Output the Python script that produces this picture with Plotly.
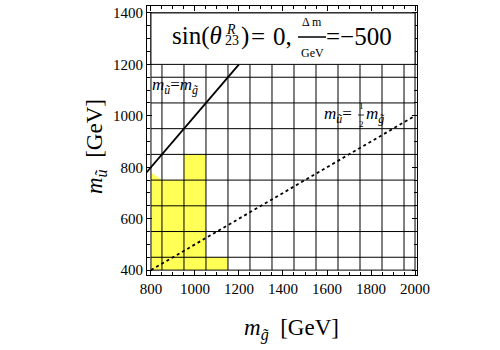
import plotly.graph_objects as go

# ---- data (GeV) ----
x_ticks = [800, 1000, 1200, 1400, 1600, 1800, 2000]
y_ticks = [400, 600, 800, 1000, 1200, 1400]
grid_x = [850, 950, 1050, 1150, 1250, 1350, 1450, 1550, 1650, 1750, 1850, 1950]
grid_y = [450, 550, 650, 750, 850, 950, 1050, 1150]
region_x = [800, 800, 850, 950, 950, 1050, 1050, 1150, 1150, 800]
region_y = [400, 780, 750, 750, 850, 850, 450, 450, 400, 400]
equal_x = [770, 1200]
equal_y = [770, 1200]
half_x = [800, 2000]
half_y = [400, 1000]
data_x = [800, 2000]
data_y = [400, 1400]
box_y0 = 1200
x_range = [782, 2009]
y_range = [381, 1427]

SERIF = "Liberation Serif"
W, H = 500, 350
ML, MR, MT, MB = 147, 83, 6, 75
PW, PH = W - ML - MR, H - MT - MB


def px(x):
    return (x - ML) / PW


def py(y):
    return (H - MB - y) / PH


fig = go.Figure()

# yellow region
fig.add_trace(go.Scatter(x=region_x, y=region_y, mode="lines", fill="toself",
                         fillcolor="#ffff55", line=dict(width=0), hoverinfo="skip"))

# grid lines + inner rectangle
gx, gy = [], []
for v in grid_x:
    gx += [v, v, None]
    gy += [data_y[0], box_y0, None]
for v in grid_y:
    gx += [data_x[0], data_x[1], None]
    gy += [v, v, None]
gx += [data_x[0], data_x[1], data_x[1], data_x[0], data_x[0], None]
gy += [data_y[0], data_y[0], data_y[1], data_y[1], data_y[0], None]
fig.add_trace(go.Scatter(x=gx, y=gy, mode="lines", line=dict(color="black", width=1),
                         hoverinfo="skip"))

# m_u = m_g
fig.add_trace(go.Scatter(x=equal_x, y=equal_y, mode="lines",
                         line=dict(color="black", width=1.8), hoverinfo="skip"))
# m_u = m_g / 2
fig.add_trace(go.Scatter(x=half_x, y=half_y, mode="lines",
                         line=dict(color="black", width=1.8, dash="3px,3px"), hoverinfo="skip"))

# title box
fig.add_shape(type="rect", xref="x", yref="y", x0=data_x[0], x1=data_x[1], y0=box_y0, y1=data_y[1],
              fillcolor="white", line=dict(color="black", width=1), layer="above")

axis_common = dict(showgrid=False, zeroline=False, showline=True, linecolor="black", linewidth=1,
                   mirror="ticks", ticks="inside", ticklen=5, tickwidth=1, tickcolor="black",
                   tickfont=dict(family=SERIF, size=15, color="black"),
                   minor=dict(ticks="inside", ticklen=3, tickwidth=1, tickcolor="black", dtick=50,
                              showgrid=False))
fig.update_xaxes(range=x_range, tickvals=x_ticks, ticktext=[str(v) for v in x_ticks], **axis_common)
fig.update_yaxes(range=y_range, tickvals=y_ticks, ticktext=[str(v) for v in y_ticks], **axis_common)

ann = []


def A(text, x, y, size, xanchor="center", angle=0):
    ann.append(dict(text=text, x=px(x), y=py(y), xref="paper", yref="paper", showarrow=False,
                    xanchor=xanchor, yanchor="middle", textangle=angle, borderpad=0, borderwidth=0,
                    font=dict(family=SERIF, size=size, color="black")))


# title pieces
A("sin(<i>θ</i>", 172, 36, 25, "left")
A("<i>R</i>", 226, 30, 14, "left")
A("23", 225, 41, 14, "left")
A(")", 241, 36, 25, "left")
A("=", 251, 36, 25, "left")
A("0,", 273, 36, 25, "left")
A("Δ m", 312, 22, 12)
A("GeV", 312, 53, 12)
A("=−500", 326, 36, 25, "left")
fig.add_shape(type="line", xref="paper", yref="paper", x0=px(298), x1=px(326), y0=py(37), y1=py(37),
              line=dict(color="black", width=1.5), layer="above")

# line labels
A("<i>m</i><sub><i>ũ</i></sub>=<i>m</i><sub><i>g̃</i></sub>", 152, 86, 17, "left")
A("<i>m</i><sub><i>ũ</i></sub>=", 324, 115, 17, "left")
A("1", 361, 106, 9)
A("2", 361, 124, 9)
fig.add_shape(type="line", xref="paper", yref="paper", x0=px(358), x1=px(364), y0=py(115), y1=py(115),
              line=dict(color="black", width=0.8), layer="above")
A("<i>m</i><sub><i>g̃</i></sub>", 366, 115, 17, "left")

# axis titles
A("<i>m</i><sub><i>ũ</i></sub>  [GeV]", 96, 147, 23, "center", -90)
A("<i>m</i><sub><i>g̃</i></sub>  [GeV]", 291, 330, 23, "center")

fig.update_layout(width=W, height=H, margin=dict(l=ML, r=MR, t=MT, b=MB),
                  font=dict(family=SERIF, color="black"),
                  plot_bgcolor="white", paper_bgcolor="white", showlegend=False,
                  annotations=ann)

fig.write_html("out.html")
